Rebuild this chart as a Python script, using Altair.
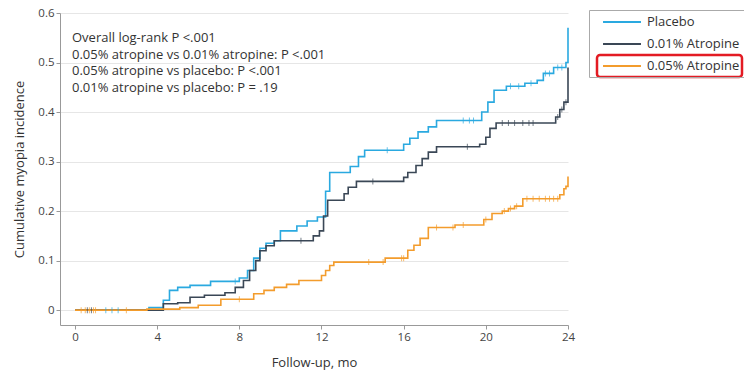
import bisect
import altair as alt
import pandas as pd

# ---- data ----
groups = ["Placebo", "0.01% Atropine", "0.05% Atropine"]
colors = ["#2AA9E0", "#3A4756", "#F39C2C"]

placebo_t = [0, 3.6, 4.3, 4.6, 5.0, 5.6, 6.6, 8.0, 8.4, 8.7, 9.0, 9.3, 9.7, 10.0, 10.8, 11.3, 11.8,
             12.2, 12.4, 13.4, 13.8, 14.1, 16.0, 16.3, 16.7, 17.2, 17.6, 19.8, 20.1, 20.4, 21.0,
             21.9, 22.5, 22.8, 23.3, 23.9, 24.0]
placebo_v = [0, 0.005, 0.02, 0.04, 0.046, 0.05, 0.058, 0.065, 0.08, 0.105, 0.125, 0.135, 0.14, 0.16,
             0.17, 0.18, 0.188, 0.24, 0.278, 0.29, 0.31, 0.323, 0.335, 0.347, 0.36, 0.37, 0.383,
             0.40, 0.42, 0.444, 0.452, 0.458, 0.464, 0.478, 0.49, 0.50, 0.57]

low_t = [0, 4.3, 5.0, 5.6, 6.3, 7.3, 7.8, 8.2, 8.5, 8.8, 9.0, 9.3, 9.7, 11.6, 11.9, 12.1, 12.3,
         13.1, 13.3, 13.7, 16.0, 16.2, 16.6, 16.9, 17.2, 17.6, 19.7, 20.0, 20.2, 20.5, 23.4,
         23.6, 23.8, 24.0]
low_v = [0, 0.013, 0.015, 0.026, 0.03, 0.035, 0.046, 0.06, 0.08, 0.1, 0.12, 0.13, 0.14, 0.15,
         0.16, 0.19, 0.222, 0.235, 0.248, 0.26, 0.268, 0.278, 0.292, 0.306, 0.319, 0.33, 0.335,
         0.349, 0.367, 0.378, 0.39, 0.405, 0.42, 0.49]

high_t = [0, 3.5, 5.1, 6.0, 7.1, 8.7, 9.2, 9.7, 10.3, 10.9, 12.0, 12.2, 12.4, 12.6, 15.1, 16.2,
          16.5, 16.8, 17.2, 18.5, 19.9, 20.3, 20.8, 21.1, 21.4, 21.8, 23.6, 23.8, 23.9, 24.0]
high_v = [0, 0.002, 0.005, 0.01, 0.022, 0.033, 0.04, 0.046, 0.052, 0.06, 0.07, 0.08, 0.09, 0.097,
          0.105, 0.121, 0.131, 0.145, 0.167, 0.172, 0.183, 0.195, 0.2, 0.205, 0.21, 0.225, 0.233,
          0.245, 0.25, 0.27]

# censoring times
placebo_cens = [1.5, 1.8, 2.1, 7.8, 15.2, 18.9, 19.2, 19.4, 21.2, 21.6, 22.2, 22.9, 23.1, 23.5, 23.7]
low_cens = [0.6, 0.8, 11.0, 14.5, 19.1, 20.8, 21.1, 21.4, 21.8, 22.1, 22.3, 23.5, 23.7, 23.9]
high_cens = [0.3, 0.5, 0.7, 0.9, 1.0, 2.5, 8.0, 14.3, 15.0, 15.9, 16.0, 17.6, 18.4, 18.9, 20.0,
             20.9, 21.2, 21.5, 22.0, 22.3, 22.6, 22.9, 23.1, 23.3, 23.5]

x_ticks = [0, 4, 8, 12, 16, 20, 24]
y_ticks = [0, 0.1, 0.2, 0.3, 0.4, 0.5, 0.6]

notes = [
    "Overall log-rank P <.001",
    "0.05% atropine vs 0.01% atropine: P <.001",
    "0.05% atropine vs placebo: P <.001",
    "0.01% atropine vs placebo: P = .19",
]

# ---- tables ----
series = [(groups[0], placebo_t, placebo_v, placebo_cens),
          (groups[1], low_t, low_v, low_cens),
          (groups[2], high_t, high_v, high_cens)]
rows, crows = [], []
for g, ts, vs, cs in series:
    for t, v in zip(ts, vs):
        rows.append({"group": g, "t": t, "v": v})
    for c in cs:
        i = bisect.bisect_right(ts, c) - 1
        crows.append({"group": g, "t": c, "v": vs[i]})
df = pd.DataFrame(rows)
cdf = pd.DataFrame(crows)
one = pd.DataFrame({"k": [0]})

FONT = "Open Sans"
cscale = alt.Scale(domain=groups, range=colors)
color = alt.Color("group:N", scale=cscale,
                  legend=alt.Legend(title=None, orient="none", legendX=529, legendY=-3,
                                    symbolType="M0.29,0H5.71", symbolSize=196, symbolStrokeWidth=2,
                                    labelFontSize=13, labelFont=FONT, labelColor="#333",
                                    strokeColor="#aaa", padding=4, rowPadding=7,
                                    labelOffset=38))

xs = alt.X("t:Q", scale=alt.Scale(domain=[-0.73, 24], nice=False, zero=False),
           axis=alt.Axis(values=x_ticks, title="Follow-up, mo", grid=False, labelFlush=False,
                         tickSize=4, titlePadding=14))
ys = alt.Y("v:Q", scale=alt.Scale(domain=[-0.03, 0.6], nice=False, zero=False),
           axis=alt.Axis(values=y_ticks, title="Cumulative myopia incidence", grid=True,
                         labelExpr="datum.value == 0 ? '0' : format(datum.value, '.1f')",
                         tickSize=4, titlePadding=11))

lines = alt.Chart(df).mark_line(interpolate="step-after", strokeWidth=1.6).encode(
    x=xs, y=ys, color=color, detail="group:N")

cens = alt.Chart(cdf).mark_tick(orient="vertical", size=6, thickness=1).encode(
    x="t:Q", y="v:Q", color=alt.Color("group:N", scale=cscale, legend=None))

text = alt.Chart(one).mark_text(align="left", baseline="top", fontSize=13, font=FONT,
                                color="#333", lineHeight=16.5, text=notes).encode(
    x=alt.value(12), y=alt.value(19))

box = alt.Chart(one).mark_rect(filled=False, stroke="#E31B23", strokeWidth=2.5,
                               cornerRadius=3).encode(
    x=alt.value(537), x2=alt.value(682), y=alt.value(42), y2=alt.value(64))

chart = alt.layer(lines, cens, text, box).properties(
    width=508, height=312, autosize=alt.AutoSizeParams(type="none"),
    padding={"left": 60, "top": 13, "right": 176, "bottom": 50},
).configure_view(stroke=None).configure_axis(
    labelFont=FONT, titleFont=FONT, labelFontSize=11.5, titleFontSize=13,
    labelColor="#444", titleColor="#333", titleFontWeight="normal",
    domainColor="#999", tickColor="#999", gridColor="#e6e6e6",
)

chart.save("out.html", embed_options={"renderer": "svg", "actions": False})
